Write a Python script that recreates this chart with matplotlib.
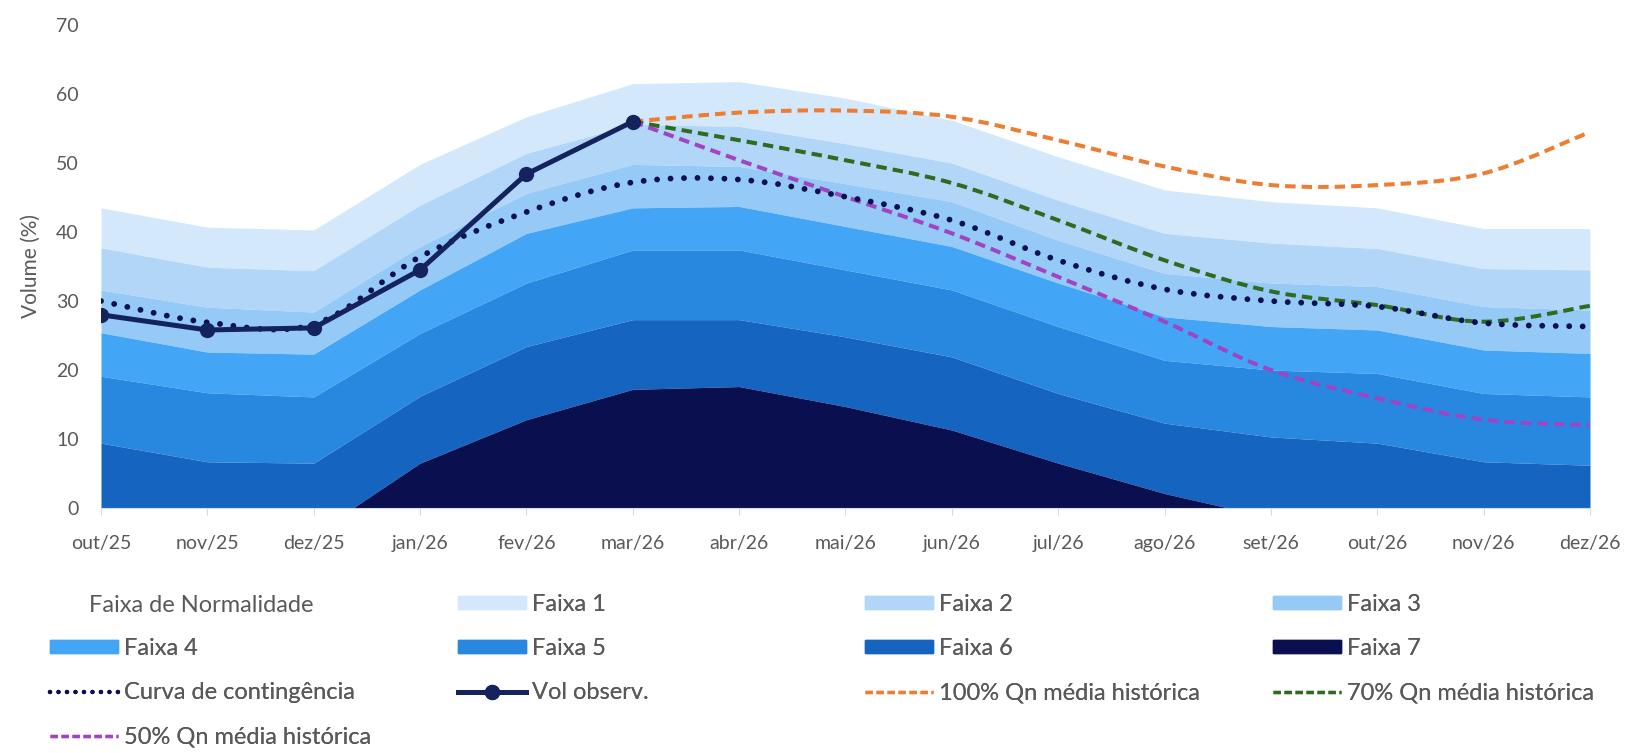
import matplotlib
matplotlib.use("Agg")
import matplotlib.pyplot as plt
from matplotlib.lines import Line2D
from matplotlib.patches import Patch, PathPatch
from matplotlib.path import Path
import numpy as np

plt.rcParams["font.family"] = ["Lato", "DejaVu Sans"]

months = ["out/25", "nov/25", "dez/25", "jan/26", "fev/26", "mar/26", "abr/26",
          "mai/26", "jun/26", "jul/26", "ago/26", "set/26", "out/26", "nov/26", "dez/26"]

# upper limit of each band (% of volume); faixa 7 dips below 0 where it vanishes
faixa1_top = [43.5, 40.7, 40.3, 49.8, 56.7, 61.5, 61.8, 59.4, 56.2, 50.9, 46.1, 44.4, 43.5, 40.5, 40.5]
faixa2_top = [37.7, 34.9, 34.4, 43.9, 51.4, 55.6, 55.3, 52.8, 50.0, 44.6, 39.8, 38.4, 37.6, 34.7, 34.5]
faixa3_top = [31.6, 29.1, 28.4, 37.9, 45.6, 49.8, 49.5, 47.0, 44.4, 38.8, 34.0, 32.6, 32.1, 29.2, 28.7]
faixa4_top = [25.4, 22.6, 22.3, 31.6, 39.8, 43.5, 43.7, 40.8, 37.9, 32.6, 27.7, 26.3, 25.8, 22.9, 22.4]
faixa5_top = [19.1, 16.7, 16.1, 25.3, 32.6, 37.4, 37.4, 34.5, 31.6, 26.3, 21.4, 20.0, 19.5, 16.6, 16.1]
faixa6_top = [9.4, 6.7, 6.5, 16.2, 23.4, 27.3, 27.3, 24.8, 21.9, 16.6, 12.3, 10.3, 9.4, 6.7, 6.2]
faixa7_top = [-8.0, -4.5, -3.8, 6.5, 12.8, 17.2, 17.6, 14.7, 11.3, 6.5, 2.1, -1.4, -2.5, -5.0, -5.5]

contingencia = [30.0, 26.9, 26.6, 36.4, 42.9, 47.2, 47.6, 45.1, 41.7, 35.9, 31.7, 30.0, 29.2, 26.8, 26.3]
vol_observ = [28.0, 25.8, 26.1, 34.5, 48.4, 56.0]

# projections start at mar/26
q100 = [56.0, 57.3, 57.6, 56.7, 53.3, 49.5, 46.8, 46.8, 48.5, 54.5]
q70 = [56.0, 53.3, 50.4, 47.1, 41.7, 35.9, 31.4, 29.4, 27.0, 29.3]
q50 = [56.0, 50.4, 45.1, 39.8, 33.5, 27.0, 20.0, 15.9, 12.8, 12.0]

band_labels = ["Faixa 1", "Faixa 2", "Faixa 3", "Faixa 4", "Faixa 5", "Faixa 6", "Faixa 7"]
band_colors = ["#d3e8fb", "#b1d6f8", "#95c9f6", "#42a5f5", "#2888e0", "#1565c0", "#0a0f4f"]

C_ORANGE = "#ed7d31"
C_GREEN = "#2f6b1f"
C_PURPLE = "#a044c4"
C_NAVY = "#0b1150"
C_OBS = "#14235e"
GRAY = "#595959"


def smooth_path(xs, ys):
    """Excel-like smoothed line: Catmull-Rom segments as cubic Beziers."""
    pts = np.column_stack([xs, ys]).astype(float)
    verts = [pts[0]]
    codes = [Path.MOVETO]
    n = len(pts)
    for i in range(n - 1):
        p0 = pts[i - 1] if i > 0 else pts[i]
        p1, p2 = pts[i], pts[i + 1]
        p3 = pts[i + 2] if i + 2 < n else p2
        verts += [p1 + (p2 - p0) / 6, p2 - (p3 - p1) / 6, p2]
        codes += [Path.CURVE4] * 3
    return Path(verts, codes)


fig = plt.figure(figsize=(16.32, 7.53), dpi=100)
ax = fig.add_axes([101 / 1632, 1 - 508 / 753, 1489 / 1632, 483 / 753])

x = np.arange(len(months))
tops = [faixa1_top, faixa2_top, faixa3_top, faixa4_top, faixa5_top, faixa6_top, faixa7_top]
for i, (top, color) in enumerate(zip(tops, band_colors)):
    lower = tops[i + 1] if i + 1 < len(tops) else np.full(len(months), -20.0)
    ax.fill_between(x, lower, top, color=color, linewidth=0, zorder=1)

xp = x[5:]
dashed = dict(fill=False, lw=2.9, linestyle=(0, (2.6, 1.5)), capstyle="butt", zorder=3)
ax.add_patch(PathPatch(smooth_path(xp, q100), edgecolor=C_ORANGE, **dashed))
ax.add_patch(PathPatch(smooth_path(xp, q70), edgecolor=C_GREEN, **dashed))
ax.add_patch(PathPatch(smooth_path(xp, q50), edgecolor=C_PURPLE, **dashed))
ax.add_patch(PathPatch(smooth_path(x, contingencia), fill=False, edgecolor=C_NAVY, lw=4.2,
                       linestyle=(0, (0.01, 2.3)), capstyle="round", zorder=4))
ax.plot(x[:len(vol_observ)], vol_observ, color=C_OBS, lw=3.6, marker="o", ms=10,
        solid_capstyle="round", zorder=5)

ax.set_xlim(0, len(months) - 1)
ax.set_ylim(0, 70)
ax.set_yticks(range(0, 71, 10))
ax.set_xticks(x)
ax.set_xticklabels(months)
ax.tick_params(axis="y", length=0, pad=16, labelsize=14, labelcolor=GRAY)
ax.tick_params(axis="x", length=5, color="#d9d9d9", pad=14.5, labelsize=14, labelcolor=GRAY)
for side in ("left", "right", "top"):
    ax.spines[side].set_visible(False)
ax.spines["bottom"].set_color("#d9d9d9")
ax.spines["bottom"].set_zorder(6)
ax.set_ylabel("Volume (%)", fontsize=15, color=GRAY, labelpad=11)

# legend laid out like the spreadsheet one: four equal-width columns
def line_handle(color, style, lw, **kw):
    return Line2D([], [], color=color, linestyle=style, lw=lw, **kw)

LEG_FS = 17
dash_h = (0, (2.2, 1.1))
columns = [
    (50, [(Patch(color=band_colors[3]), "Faixa 4"),
          (line_handle(C_NAVY, (0, (0.01, 1.9)), 3.2, dash_capstyle="round"), "Curva de contingência"),
          (line_handle(C_PURPLE, dash_h, 2.4), "50% Qn média histórica")]),
    (458, [(Patch(color=band_colors[0]), "Faixa 1"),
           (Patch(color=band_colors[4]), "Faixa 5"),
           (line_handle(C_OBS, "-", 3.6, marker="o", ms=10), "Vol observ.")]),
    (865, [(Patch(color=band_colors[1]), "Faixa 2"),
           (Patch(color=band_colors[5]), "Faixa 6"),
           (line_handle(C_ORANGE, dash_h, 2.4), "100% Qn média histórica")]),
    (1273, [(Patch(color=band_colors[2]), "Faixa 3"),
            (Patch(color=band_colors[6]), "Faixa 7"),
            (line_handle(C_GREEN, dash_h, 2.4), "70% Qn média histórica")]),
]
row_top = 594
row_step = 44
for i, (xpix, entries) in enumerate(columns):
    top = row_top + (row_step if i == 0 else 0)
    leg = fig.legend([h for h, _ in entries], [t for _, t in entries],
                     loc="upper left", bbox_to_anchor=(xpix / 1632, 1 - top / 753),
                     bbox_transform=fig.transFigure, frameon=False, fontsize=LEG_FS,
                     borderpad=0, borderaxespad=0, handlelength=2.9, handleheight=0.5,
                     handletextpad=0.25, labelspacing=0.98, labelcolor=GRAY)
    fig.add_artist(leg)
fig.text(89 / 1632, 1 - 605 / 753, "Faixa de Normalidade", fontsize=LEG_FS, color=GRAY,
         ha="left", va="center")

fig.savefig("out.png", dpi=100)
